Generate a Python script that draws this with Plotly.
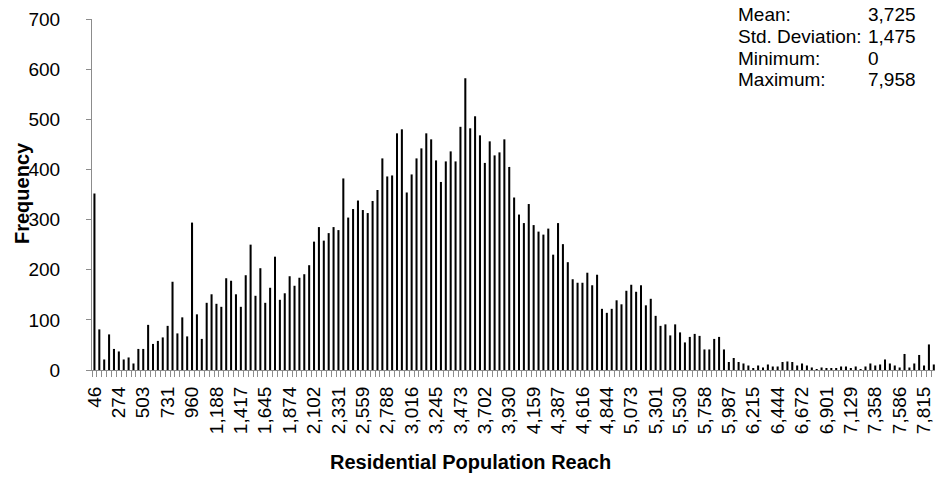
import plotly.graph_objects as go

# Histogram frequencies, one per bin (bin width ~45.7)
frequency = [
    352, 81, 21, 71, 42, 37, 21, 25, 13, 42,
    42, 90, 52, 58, 65, 88, 176, 73, 105, 67,
    294, 111, 62, 134, 151, 132, 126, 183, 178, 151,
    126, 189, 250, 148, 203, 134, 164, 226, 140, 153,
    187, 168, 184, 191, 209, 256, 285, 258, 273, 285,
    279, 382, 304, 321, 338, 319, 313, 337, 359, 422,
    386, 388, 472, 480, 354, 390, 422, 442, 472, 460,
    418, 375, 416, 436, 416, 485, 582, 482, 506, 468,
    413, 456, 428, 434, 460, 405, 344, 310, 293, 331,
    289, 276, 270, 282, 230, 293, 251, 215, 181, 174,
    174, 194, 169, 190, 122, 114, 122, 139, 131, 158,
    170, 156, 169, 129, 142, 108, 88, 91, 69, 91,
    75, 55, 66, 72, 68, 41, 41, 62, 66, 41,
    16, 24, 16, 13, 9, 4, 9, 5, 11, 7,
    7, 16, 17, 16, 9, 13, 9, 5, 1, 5,
    3, 3, 3, 7, 7, 3, 7, 1, 7, 13,
    9, 11, 21, 13, 9, 5, 32, 5, 13, 30,
    9, 51, 11,
]

# Labels shown under every 5th bin
tick_labels = [
    "46", "274", "503", "731", "960", "1,188", "1,417", "1,645", "1,874",
    "2,102", "2,331", "2,559", "2,788", "3,016", "3,245", "3,473", "3,702",
    "3,930", "4,159", "4,387", "4,616", "4,844", "5,073", "5,301", "5,530",
    "5,758", "5,987", "6,215", "6,444", "6,672", "6,901", "7,129", "7,358",
    "7,586", "7,815",
]
label_step = 5

stat_names = ["Mean:", "Std. Deviation:", "Minimum:", "Maximum:"]
stat_values = ["3,725", "1,475", "0", "7,958"]

y_ticks = [0, 100, 200, 300, 400, 500, 600, 700]

FONT = "Liberation Sans, Arial, sans-serif"
W, H = 935, 483
L, R, T, B = 92, 0, 19, 113
pw, ph = W - L - R, H - T - B


def px_x(p):
    return (p - L) / pw


def px_y(p):
    return (H - B - p) / ph


x_idx = list(range(len(frequency)))
label_pos = [i * label_step for i in range(len(tick_labels))]

fig = go.Figure(go.Bar(
    x=x_idx, y=frequency,
    marker=dict(color="#000000", line=dict(width=0)),
    hoverinfo="y",
))

annotations = [
    dict(text="<b>Frequency</b>", x=px_x(22), y=px_y(193), xref="paper", yref="paper",
         textangle=-90, showarrow=False, font=dict(family=FONT, size=20, color="#000"),
         xanchor="center", yanchor="middle"),
    dict(text="<b>Residential Population Reach</b>", x=px_x(470), y=px_y(462),
         xref="paper", yref="paper", showarrow=False,
         font=dict(family=FONT, size=20, color="#000"), xanchor="center", yanchor="middle"),
]
row_y = [15, 36.5, 58, 79.5]
for name, val, yy in zip(stat_names, stat_values, row_y):
    annotations.append(dict(text=name, x=px_x(736), y=px_y(yy), xref="paper", yref="paper",
                            showarrow=False, xanchor="left", yanchor="middle",
                            font=dict(family=FONT, size=19, color="#000")))
    annotations.append(dict(text=val, x=px_x(866), y=px_y(yy), xref="paper", yref="paper",
                            showarrow=False, xanchor="left", yanchor="middle",
                            font=dict(family=FONT, size=19, color="#000")))

fig.update_layout(
    width=W, height=H,
    margin=dict(l=L, r=R, t=T, b=B, pad=0, autoexpand=False),
    paper_bgcolor="white", plot_bgcolor="white",
    bargap=0.58,
    showlegend=False,
    font=dict(family=FONT, size=19, color="#000"),
    annotations=annotations,
    xaxis=dict(
        range=[-0.5, -0.5 + pw / 4.88],
        tickmode="array", tickvals=label_pos, ticktext=tick_labels,
        tickangle=-90, ticks="", showgrid=False, zeroline=False,
        showline=True, linecolor="#8c8c8c", linewidth=1,
        tickfont=dict(family=FONT, size=19, color="#000"),
        ticklabelstandoff=8, automargin=False,
        minor=dict(ticks="outside", tick0=-0.5, dtick=1, ticklen=6,
                   tickcolor="#8c8c8c", tickwidth=1, showgrid=False),
    ),
    yaxis=dict(
        range=[0, 700], tickmode="array", tickvals=y_ticks,
        ticks="outside", ticklen=5, tickcolor="#8c8c8c", tickwidth=1,
        showgrid=False, zeroline=False,
        showline=True, linecolor="#8c8c8c", linewidth=1,
        tickfont=dict(family=FONT, size=19, color="#000"),
        ticklabelstandoff=22, automargin=False,
    ),
)

fig.write_html(
    "out.html",
    config={"displayModeBar": False},
    post_script="document.body.style.margin='0';document.body.style.overflow='hidden';",
)
